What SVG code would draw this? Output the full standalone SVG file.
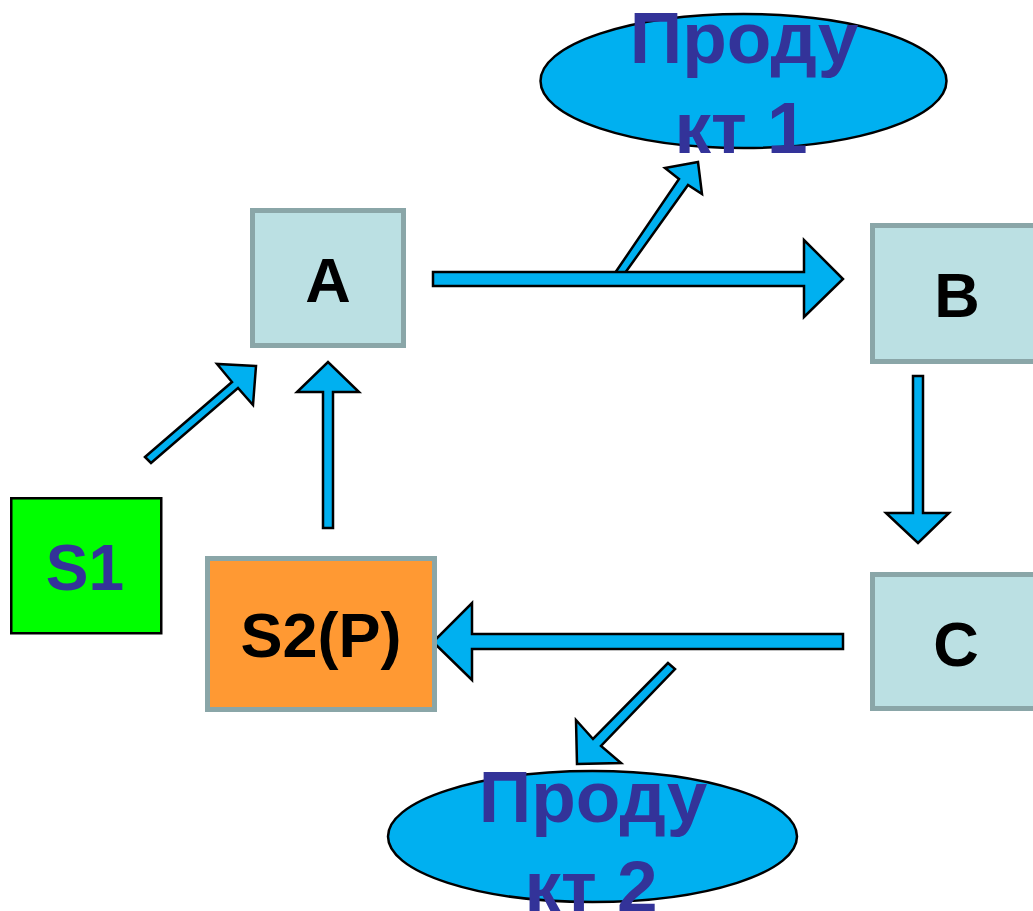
<svg xmlns="http://www.w3.org/2000/svg" width="1033" height="911" viewBox="0 0 1033 911">
<style>
.box{fill:#BBE0E3;stroke:#8AA6A8;stroke-width:5}
.ell{fill:#00B0F0;stroke:#000;stroke-width:2.5}
.arr{fill:#00B0F0;stroke:#000;stroke-width:2.5;stroke-linejoin:miter}
.t{font-family:"Liberation Sans",Arial,sans-serif;font-weight:bold;text-anchor:middle}
.blk{fill:#000;font-size:63px}
.pur{fill:#333399}
.prod{fill:#333399;font-size:73px}
</style>
<rect width="1033" height="911" fill="#fff"/>
<g id="product1">
<ellipse class="ell" cx="743.5" cy="81" rx="203" ry="67"/>
</g>
<g id="product2">
<ellipse class="ell" cx="592.5" cy="836.5" rx="204.5" ry="65.5"/>
</g>
<g id="connectors">
<polygon class="arr" points="615,273 679,179 665,168 698,162 702,194 688,185 625,273"/>
<polygon class="arr" points="433,272 804,272 804,240 843,279 804,317 804,286 433,286"/>
<polygon class="arr" points="145,457 232,382 217,364 256,366 253,405 238,388 151,463"/>
<polygon class="arr" points="323,528 323,392 297,392 328,362 359,392 333,392 333,528"/>
<polygon class="arr" points="913,376 923,376 923,513 949,513 918,543 886,513 913,513"/>
<polygon class="arr" points="843,634 472,634 472,603 433,642 472,680 472,649 843,649"/>
<polygon class="arr" points="668,663 593,739 576,720 577,764 621,763 601,746 675,669"/>
</g>
<g id="A">
<rect class="box" x="252.5" y="210.5" width="151" height="135"/>
<text class="t blk" x="328" y="302">A</text>
</g>
<g id="B">
<rect class="box" x="872.5" y="225.5" width="170" height="136"/>
<text class="t blk" x="957" y="317">B</text>
</g>
<g id="C">
<rect class="box" x="872.5" y="574.5" width="170" height="134"/>
<text class="t blk" x="956" y="666">C</text>
</g>
<g id="S1">
<rect x="11.25" y="498.25" width="150" height="135" fill="#00FF00" stroke="#000" stroke-width="2.5"/>
<text class="t pur" x="85" y="590" font-size="64">S1</text>
</g>
<g id="S2P">
<rect x="207.5" y="558.5" width="227" height="151" fill="#FF9933" stroke="#8AA6A8" stroke-width="5"/>
<text class="t blk" x="321" y="657">S2(P)</text>
</g>
<g id="product1-text">
<text class="t prod" x="744" y="63">Проду</text>
<text class="t prod" x="741" y="153">кт 1</text>
</g>
<g id="product2-text">
<text class="t prod" x="593" y="822">Проду</text>
<text class="t prod" x="591" y="912">кт 2</text>
</g>
</svg>
